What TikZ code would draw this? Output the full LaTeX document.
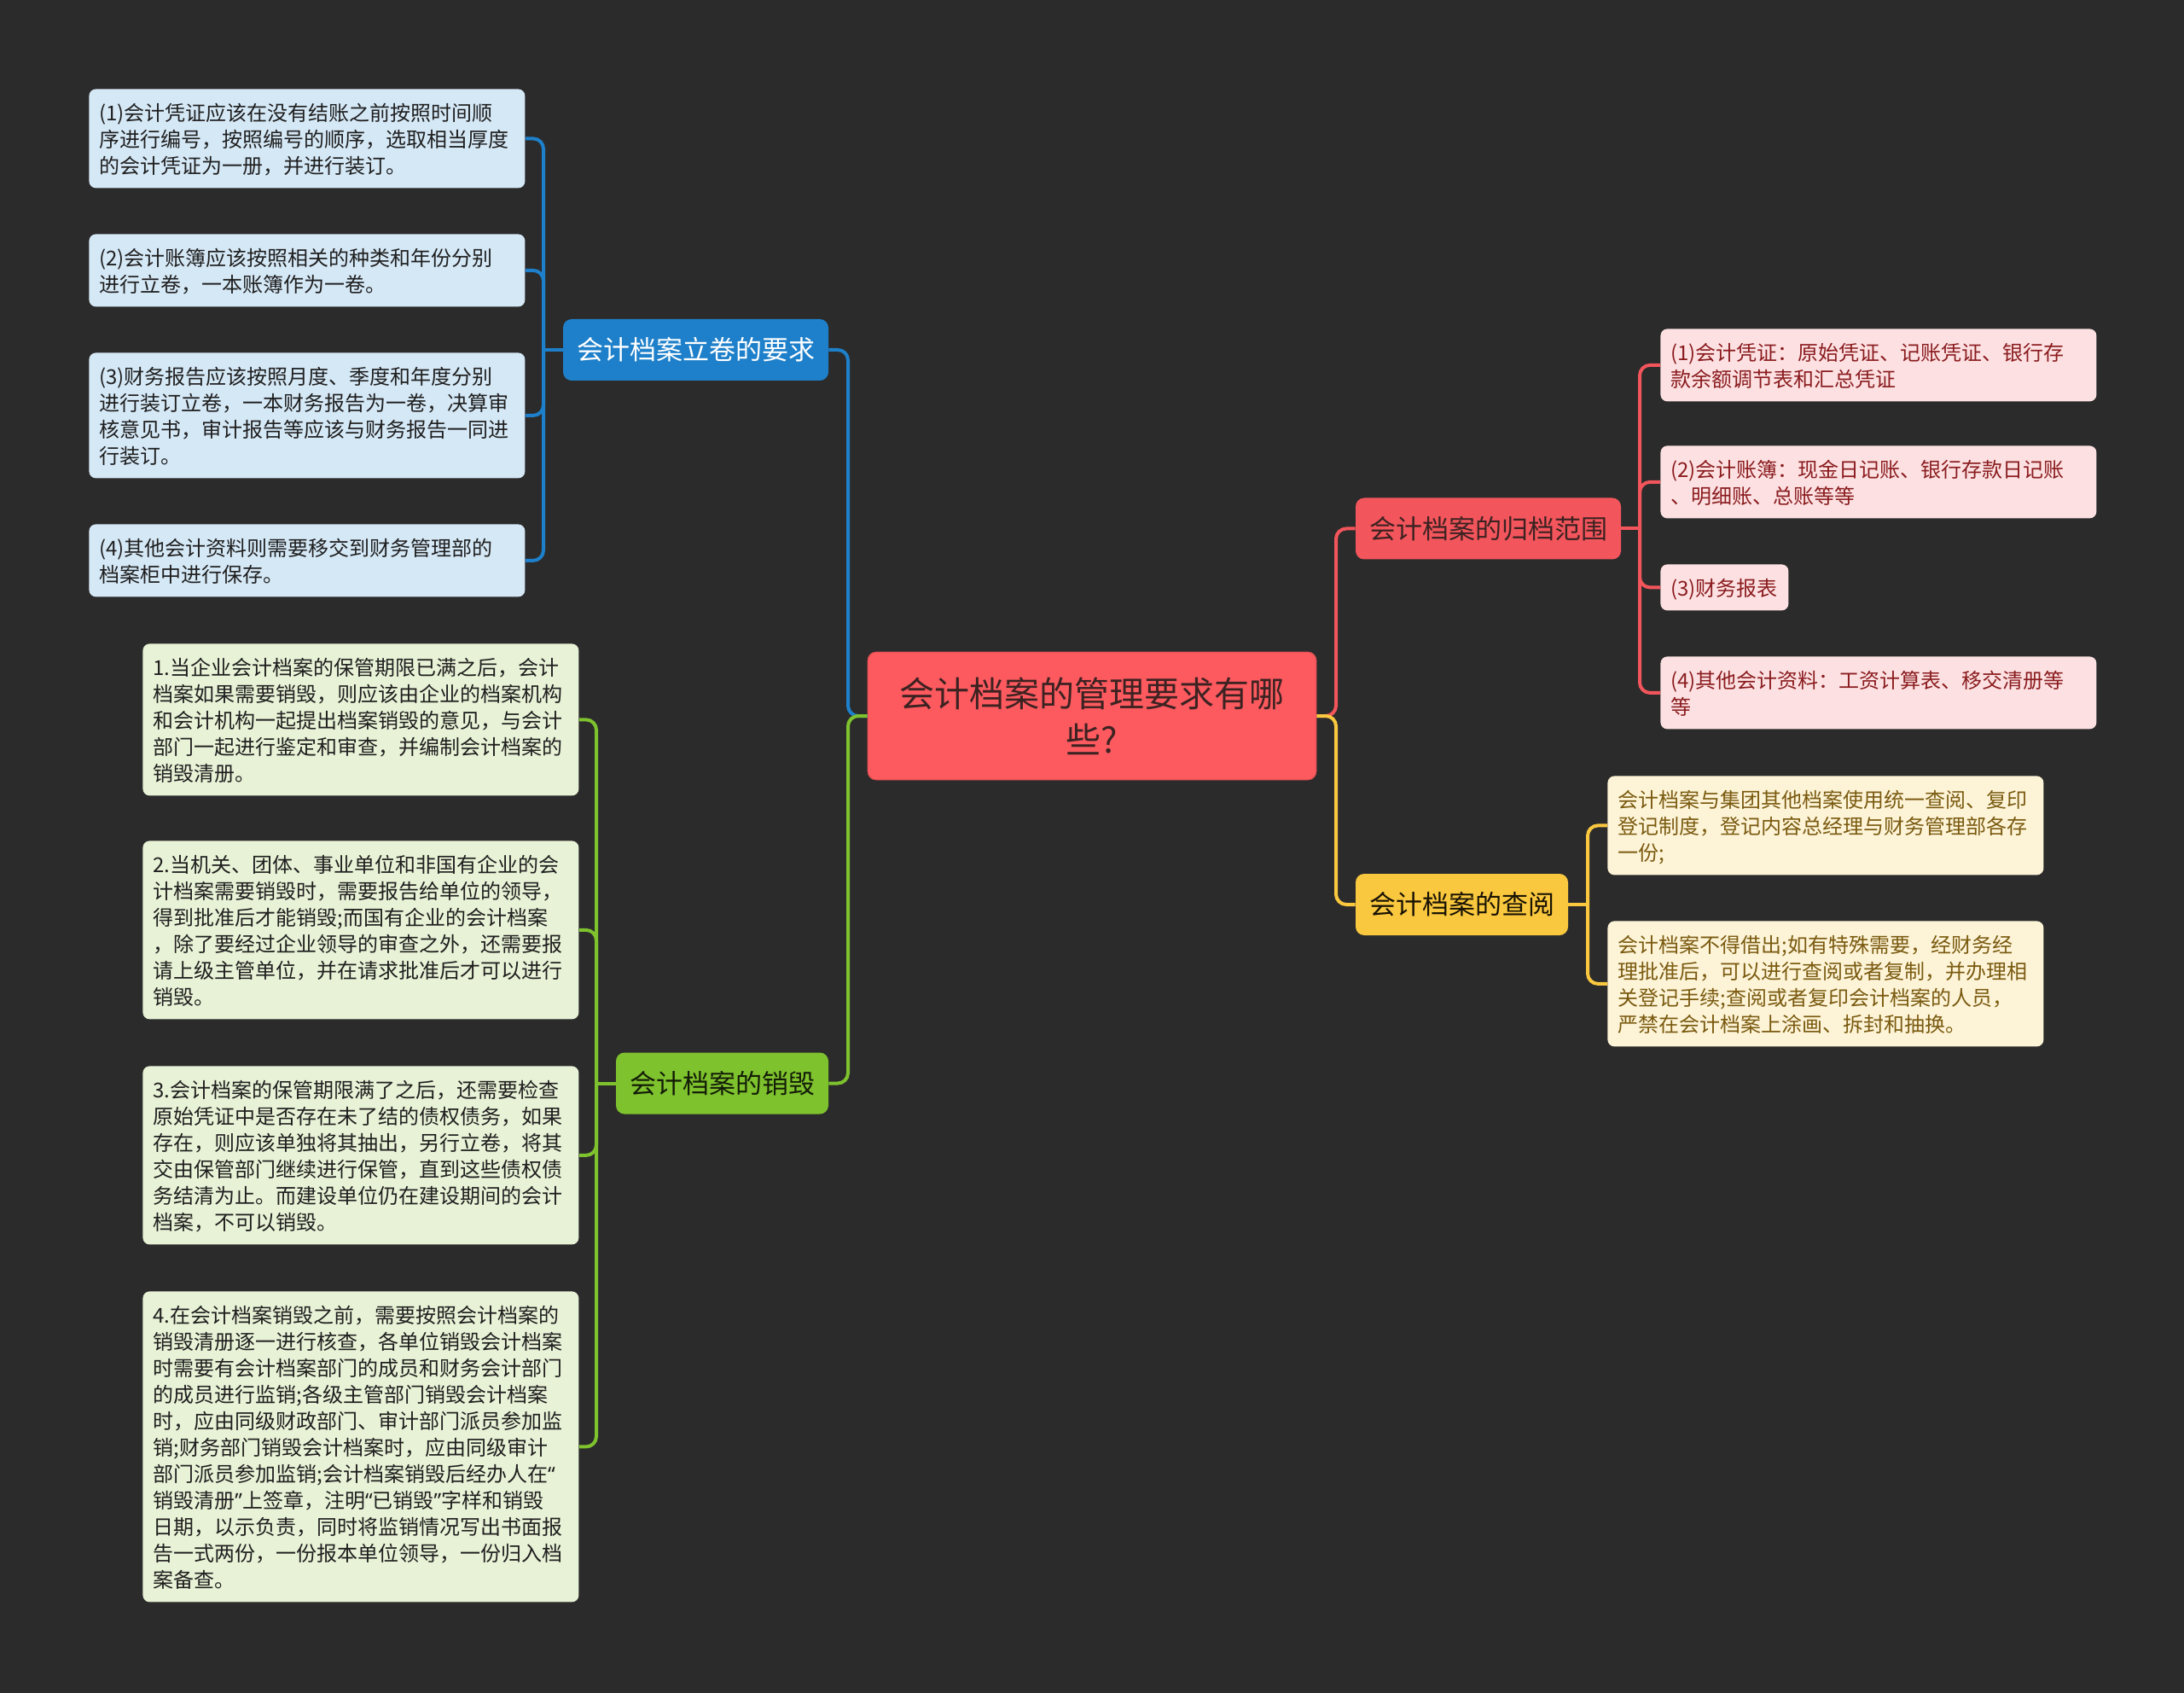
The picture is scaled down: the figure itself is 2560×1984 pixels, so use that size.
\documentclass[tikz,border=0pt]{standalone}
\usepackage{fontspec}
\newfontfamily\cjk{Noto Sans CJK SC}
\newfontfamily\latin{Noto Sans}
\definecolor{bgcol}{HTML}{2B2B2B}
\definecolor{rootfill}{HTML}{FC5A5F}
\definecolor{roottext}{HTML}{3D2222}
\definecolor{bluemain}{HTML}{1E80CA}
\definecolor{bluelight}{HTML}{D5E8F6}
\definecolor{redmain}{HTML}{F2555B}
\definecolor{redlight}{HTML}{FDE1E2}
\definecolor{redtext}{HTML}{8A1C1F}
\definecolor{yelmain}{HTML}{FAC83F}
\definecolor{yellight}{HTML}{FDF4D7}
\definecolor{yeltext}{HTML}{7A5A10}
\definecolor{grnmain}{HTML}{7EC22E}
\definecolor{grnlight}{HTML}{E8F2D6}
\newcommand\leaffont{\cjk\fontsize{12}{15.5}\selectfont}
\newcommand\branchfont{\cjk\fontsize{15.5}{18}\selectfont}
\newcommand\oq{{\latin “}}
\newcommand\cq{{\latin ”}}
\begin{document}
\begin{tikzpicture}[x=0.5pt, y=-0.5pt,
    leaf/.style={anchor=north west, rounded corners=4pt, inner xsep=6pt, inner ysep=5.75pt,
      text width=243.5pt, align=left, font=\leaffont, text=black!88,
      execute at begin node=\rule{0pt}{12.85pt}, execute at end node=\rule[-2.65pt]{0pt}{0pt}},
    branch/.style={rounded corners=5pt, minimum height=36pt, inner xsep=8pt, font=\branchfont},
    link/.style={line width=2pt, rounded corners=6pt}]
    \fill[bgcol] (0,0) rectangle (2560,1984);
    % centre
    \node[fill=rootfill, draw=rootfill!80!black, rounded corners=5pt, minimum width=263pt, minimum height=75pt,
      text width=240pt, align=center, text=roottext, font=\cjk\fontsize{20.5}{27}\selectfont] (root) at (1280,839)
      {会计档案的管理要求有哪\\些?};
    % main branches
    \node[branch, fill=bluemain, text=white] (vol) at (815.5,410) {会计档案立卷的要求};
    \node[branch, fill=redmain, text=roottext] (rng) at (1744.5,619.5) {会计档案的归档范围};
    \node[branch, fill=yelmain, text=black!80!yeltext] (qry) at (1713.5,1060) {会计档案的查阅};
    \node[branch, fill=grnmain, text=black!85!grnmain] (des) at (846.5,1269.5) {会计档案的销毁};
    % leaves, blue
    \node[leaf, fill=bluelight] (vol1) at (104,104) {(1)会计凭证应该在没有结账之前按照时间顺\\序进行编号，按照编号的顺序，选取相当厚度\\的会计凭证为一册，并进行装订。};
    \node[leaf, fill=bluelight] (vol2) at (104,274) {(2)会计账簿应该按照相关的种类和年份分别\\进行立卷，一本账簿作为一卷。};
    \node[leaf, fill=bluelight] (vol3) at (104,413) {(3)财务报告应该按照月度、季度和年度分别\\进行装订立卷，一本财务报告为一卷，决算审\\核意见书，审计报告等应该与财务报告一同进\\行装订。};
    \node[leaf, fill=bluelight] (vol4) at (104,614) {(4)其他会计资料则需要移交到财务管理部的\\档案柜中进行保存。};
    % leaves, green
    \node[leaf, fill=grnlight] (des1) at (167,754) {1.当企业会计档案的保管期限已满之后，会计\\档案如果需要销毁，则应该由企业的档案机构\\和会计机构一起提出档案销毁的意见，与会计\\部门一起进行鉴定和审查，并编制会计档案的\\销毁清册。};
    \node[leaf, fill=grnlight] (des2) at (167,985) {2.当机关、团体、事业单位和非国有企业的会\\计档案需要销毁时，需要报告给单位的领导，\\得到批准后才能销毁;而国有企业的会计档案\\，除了要经过企业领导的审查之外，还需要报\\请上级主管单位，并在请求批准后才可以进行\\销毁。};
    \node[leaf, fill=grnlight] (des3) at (167,1249) {3.会计档案的保管期限满了之后，还需要检查\\原始凭证中是否存在未了结的债权债务，如果\\存在，则应该单独将其抽出，另行立卷，将其\\交由保管部门继续进行保管，直到这些债权债\\务结清为止。而建设单位仍在建设期间的会计\\档案，不可以销毁。};
    \node[leaf, fill=grnlight] (des4) at (167,1513) {4.在会计档案销毁之前，需要按照会计档案的\\销毁清册逐一进行核查，各单位销毁会计档案\\时需要有会计档案部门的成员和财务会计部门\\的成员进行监销;各级主管部门销毁会计档案\\时，应由同级财政部门、审计部门派员参加监\\销;财务部门销毁会计档案时，应由同级审计\\部门派员参加监销;会计档案销毁后经办人在\oq\\销毁清册\cq 上签章，注明\oq 已销毁\cq 字样和销毁\\日期，以示负责，同时将监销情况写出书面报\\告一式两份，一份报本单位领导，一份归入档\\案备查。};
    % leaves, red
    \node[leaf, fill=redlight, text=redtext] (rng1) at (1946,385) {(1)会计凭证：原始凭证、记账凭证、银行存\\款余额调节表和汇总凭证};
    \node[leaf, fill=redlight, text=redtext] (rng2) at (1946,522) {(2)会计账簿：现金日记账、银行存款日记账\\、明细账、总账等等};
    \node[leaf, fill=redlight, text=redtext, text width=63pt] (rng3) at (1946,661) {(3)财务报表};
    \node[leaf, fill=redlight, text=redtext] (rng4) at (1946,769) {(4)其他会计资料：工资计算表、移交清册等\\等};
    % leaves, yellow
    \node[leaf, fill=yellight, text=yeltext] (qry1) at (1884,909) {会计档案与集团其他档案使用统一查阅、复印\\登记制度，登记内容总经理与财务管理部各存\\一份;};
    \node[leaf, fill=yellight, text=yeltext] (qry2) at (1884,1079) {会计档案不得借出;如有特殊需要，经财务经\\理批准后，可以进行查阅或者复制，并办理相\\关登记手续;查阅或者复印会计档案的人员，\\严禁在会计档案上涂画、拆封和抽换。};
    % connectors
    \coordinate (rl) at (994,839);
    \coordinate (rr) at (1566,839);
    \coordinate (tv) at (637,410);
    \coordinate (tr) at (1922,619.5);
    \coordinate (tq) at (1861,1060);
    \coordinate (td) at (699,1269.5);
    \draw[link, bluemain] (root.west) -- (rl) |- (vol.east);
    \draw[link, grnmain] (root.west) -- (rl) |- (des.east);
    \draw[link, redmain] (root.east) -- (rr) |- (rng.west);
    \draw[link, yelmain] (root.east) -- (rr) |- (qry.west);
    \draw[link, bluemain] (vol.west) -- (tv);
    \draw[link, redmain] (rng.east) -- (tr);
    \draw[link, yelmain] (qry.east) -- (tq);
    \draw[link, grnmain] (des.west) -- (td);
    \foreach \i in {1,...,4}{
        \draw[link, bluemain] (tv) |- (vol\i.east);
        \draw[link, redmain] (tr) |- (rng\i.west);
        \draw[link, grnmain] (td) |- (des\i.east);
    }
    \foreach \i in {1,2}
        \draw[link, yelmain] (tq) |- (qry\i.west);
\end{tikzpicture}
\end{document}
